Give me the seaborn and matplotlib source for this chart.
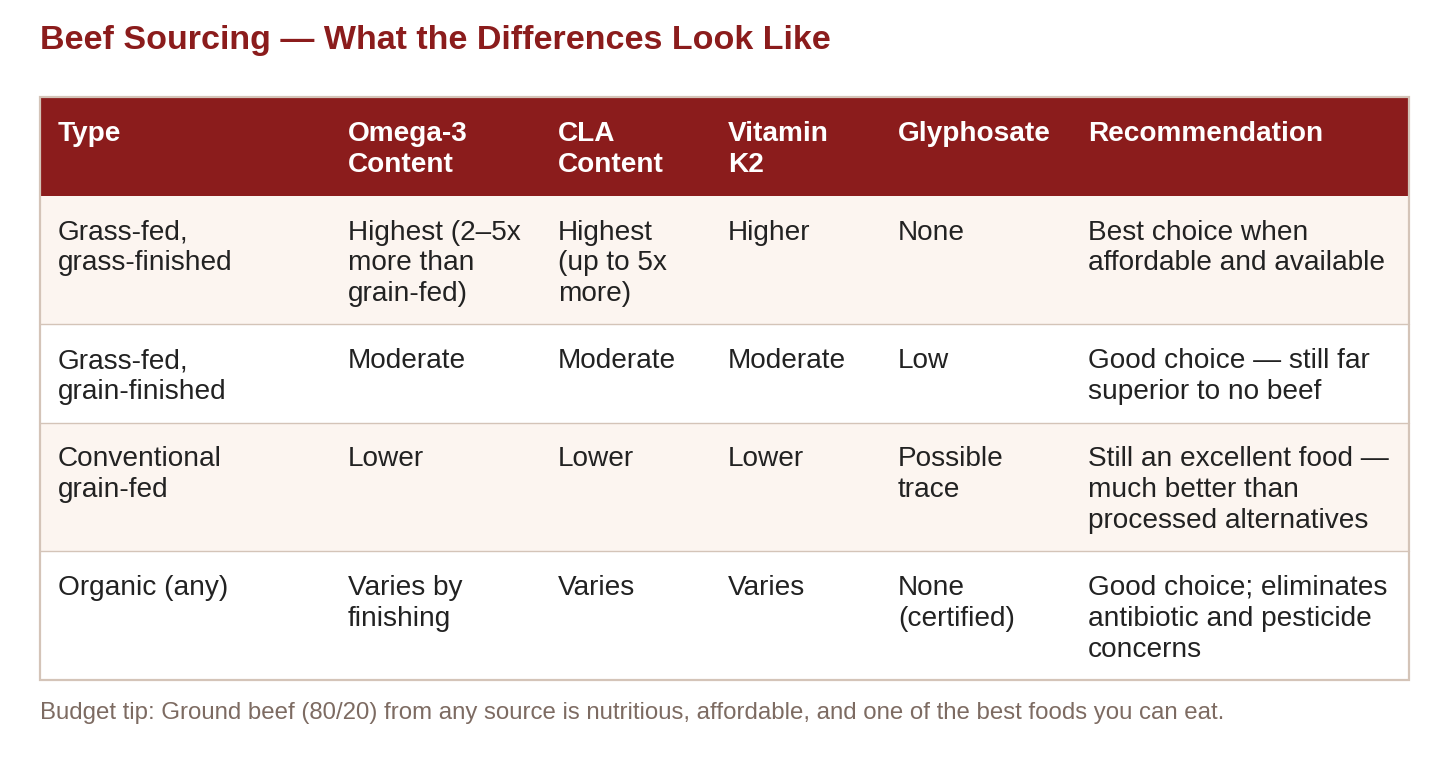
import matplotlib
matplotlib.use("Agg")
import matplotlib.pyplot as plt
from matplotlib.patches import Rectangle
import seaborn as sns

# table content
headers = ["Type", "Omega-3\nContent", "CLA\nContent", "Vitamin\nK2", "Glyphosate", "Recommendation"]
types = ["Grass-fed,\ngrass-finished", "Grass-fed,\ngrain-finished", "Conventional\ngrain-fed", "Organic (any)"]
omega3 = ["Highest (2–5x\nmore than\ngrain-fed)", "Moderate", "Lower", "Varies by\nfinishing"]
cla = ["Highest\n(up to 5x\nmore)", "Moderate", "Lower", "Varies"]
vitamin_k2 = ["Higher", "Moderate", "Lower", "Varies"]
glyphosate = ["None", "Low", "Possible\ntrace", "None\n(certified)"]
recommendation = [
    "Best choice when\naffordable and available",
    "Good choice — still far\nsuperior to no beef",
    "Still an excellent food —\nmuch better than\nprocessed alternatives",
    "Good choice; eliminates\nantibiotic and pesticide\nconcerns",
]

title = "Beef Sourcing — What the Differences Look Like"
footnote = "Budget tip: Ground beef (80/20) from any source is nutritious, affordable, and one of the best foods you can eat."

# colours
dark_red = "#8B1C1C"
beige = "#FCF5F0"
border = "#D4C4B8"
text_col = "#222222"
note_col = "#7D6B62"

sns.set_theme(style="white")
plt.rcParams["font.family"] = ["Liberation Sans", "DejaVu Sans"]

fig = plt.figure(figsize=(14.5, 7.69), dpi=100)
ax = fig.add_axes([0, 0, 1, 1])
ax.set_xlim(0, 1450)
ax.set_ylim(769, 0)
ax.axis("off")

col_w = [290, 210, 170, 170, 190, 339]
left = 40
pad_x, pad_y = 18, 24
line_h = 30
fs = 20.2
ls = 1.24

rows = [list(r) for r in zip(types, omega3, cla, vitamin_k2, glyphosate, recommendation)]

def row_height(cells):
    n = max(c.count("\n") + 1 for c in cells)
    return 38.5 + line_h * n

xs = [left]
for w in col_w:
    xs.append(xs[-1] + w)
right = xs[-1]

ax.text(left, 41, title, fontsize=24.5, fontweight="bold", color=dark_red,
        ha="left", va="center")

y = 97
top = y
# header
h = row_height(headers)
ax.add_patch(Rectangle((left, y), right - left, h, facecolor=dark_red, edgecolor="none"))
for x0, txt in zip(xs, headers):
    ax.text(x0 + pad_x, y + pad_y, txt, fontsize=fs, fontweight="bold", color="white",
            ha="left", va="top", linespacing=ls)
y += h

for i, cells in enumerate(rows):
    h = row_height(cells)
    fc = beige if i % 2 == 0 else "white"
    ax.add_patch(Rectangle((left, y), right - left, h, facecolor=fc, edgecolor="none"))
    if i > 0:
        ax.plot([left, right], [y, y], color=border, lw=1.0)
    for x0, txt in zip(xs, cells):
        ax.text(x0 + pad_x, y + pad_y, txt, fontsize=fs, color=text_col,
                ha="left", va="top", linespacing=ls)
    y += h

ax.add_patch(Rectangle((left, top), right - left, y - top, facecolor="none",
                       edgecolor=border, lw=1.6))

ax.text(left, y + 34, footnote, fontsize=17.3, color=note_col, ha="left", va="center")

fig.savefig("out.png", dpi=100, facecolor="white")
